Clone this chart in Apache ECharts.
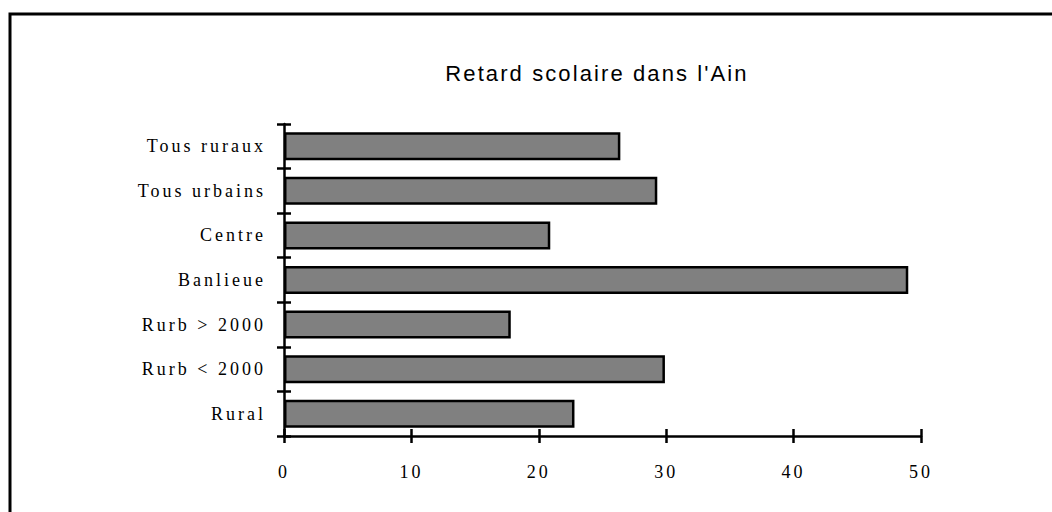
<!DOCTYPE html>
<html>
<head>
<meta charset="utf-8">
<script src="https://cdn.jsdelivr.net/npm/echarts@6/dist/echarts.min.js"></script>
<style>
  html, body { margin: 0; padding: 0; background: #fff; }
  #main { width: 1052px; height: 512px; }
  /* letter spacing of the old condensed labels */
  #main text[style*="Liberation Serif"] { letter-spacing: 3px; }
  #main text[style*="Liberation Sans"] { letter-spacing: 2.1px; }
</style>
</head>
<body>
<div id="main"></div>
<script>
// catégories, du haut vers le bas
var categories = ['Tous ruraux', 'Tous urbains', 'Centre', 'Banlieue', 'Rurb > 2000', 'Rurb < 2000', 'Rural'];
// retard scolaire (%)
var retard = [26.4, 29.3, 20.9, 49.0, 17.8, 29.9, 22.8];
var xTicks = [0, 10, 20, 30, 40, 50];

var chart = echarts.init(document.getElementById('main'), null, { renderer: 'svg' });

var labelFont = {
  color: '#000',
  fontFamily: 'Liberation Serif',
  fontSize: 18
};

chart.setOption({
  animation: false,
  backgroundColor: '#fff',
  graphic: [
    { // cadre
      type: 'rect',
      shape: { x: 10, y: 14, width: 1100, height: 600 },
      style: { fill: 'none', stroke: '#000', lineWidth: 3 }
    },
    { // titre
      type: 'text',
      x: 597,
      y: 73,
      style: {
        text: "Retard scolaire dans l'Ain",
        fill: '#000',
        font: '22px "Liberation Sans"',
        textAlign: 'center',
        textVerticalAlign: 'middle'
      }
    }
  ],
  grid: { left: 284, right: 131, top: 124, bottom: 76 },
  xAxis: [
    {
      type: 'value',
      min: xTicks[0],
      max: xTicks[xTicks.length - 1],
      interval: 10,
      axisLine: { show: true, lineStyle: { color: '#000', width: 2.5 } },
      axisTick: { show: true, length: 7, lineStyle: { color: '#000', width: 2.5 } },
      axisLabel: Object.assign({ margin: 27 }, labelFont),
      splitLine: { show: false }
    },
    { // ticks vers l'intérieur
      type: 'value',
      position: 'bottom',
      min: xTicks[0],
      max: xTicks[xTicks.length - 1],
      interval: 10,
      axisLine: { show: false },
      axisTick: { show: true, inside: true, length: 7, lineStyle: { color: '#000', width: 2.5 } },
      axisLabel: { show: false },
      splitLine: { show: false }
    }
  ],
  yAxis: [
    {
      type: 'category',
      inverse: true,
      data: categories,
      axisLine: { show: true, lineStyle: { color: '#000', width: 2.5 } },
      axisTick: { show: true, length: 7, lineStyle: { color: '#000', width: 2.5 } },
      axisLabel: Object.assign({ margin: 18 }, labelFont)
    },
    {
      type: 'category',
      position: 'left',
      inverse: true,
      data: categories,
      axisLine: { show: false },
      axisTick: { show: true, inside: true, length: 7, lineStyle: { color: '#000', width: 2.5 } },
      axisLabel: { show: false }
    }
  ],
  series: [
    {
      type: 'bar',
      data: retard,
      barWidth: 28,
      itemStyle: { color: '#808080', borderColor: '#000', borderWidth: 2.5 }
    }
  ]
});
</script>
</body>
</html>
